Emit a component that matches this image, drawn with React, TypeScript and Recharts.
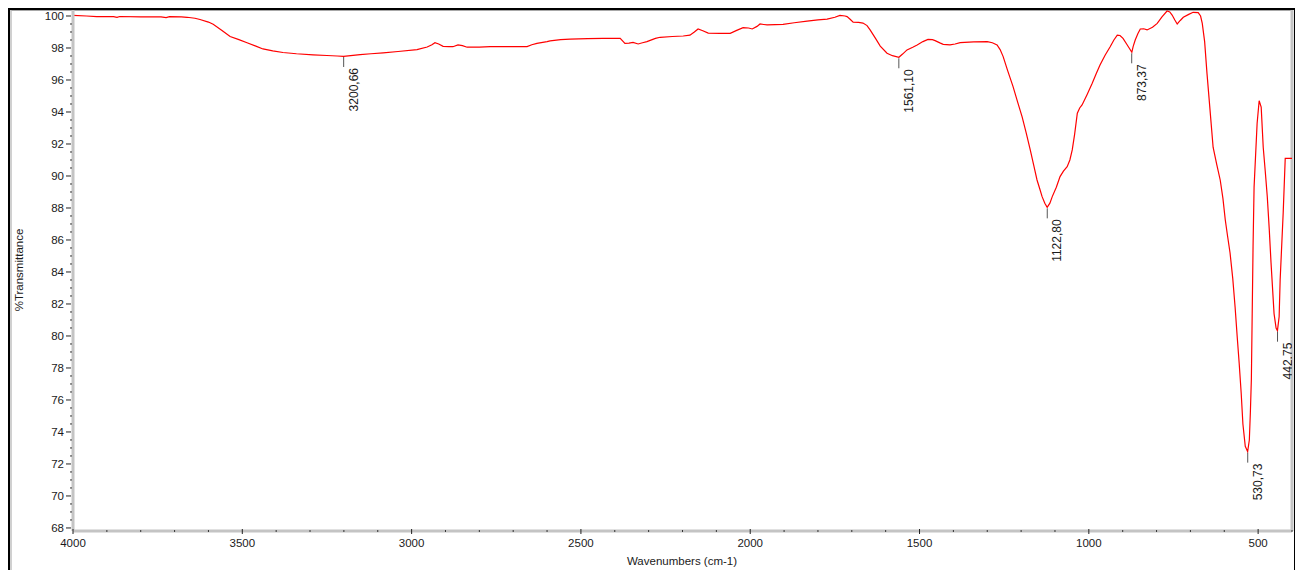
import { ComposedChart, Line, Scatter, XAxis, YAxis, ReferenceLine } from 'recharts';

const LINE_COLOR = '#ff0000';
const AXIS_GRAY = '#c4c4c4';
const FONT = '"Liberation Sans", Arial, sans-serif';

// spectrum (cm-1 / %T)
const wavenumbers = [
  4000, 3960, 3930, 3880, 3870, 3862, 3800, 3740, 3725, 3715,
  3680, 3663, 3640, 3625, 3600, 3586, 3560, 3536, 3510, 3486,
  3460, 3439, 3410, 3380, 3340, 3291, 3250, 3220, 3201, 3180,
  3152, 3120, 3084, 3040, 2984, 2954, 2940, 2931, 2920, 2907,
  2890, 2878, 2863, 2850, 2836, 2800, 2768, 2700, 2659, 2645,
  2630, 2600, 2591, 2560, 2532, 2480, 2435, 2384, 2370, 2358,
  2346, 2331, 2318, 2305, 2280, 2266, 2230, 2198, 2178, 2165,
  2154, 2140, 2124, 2090, 2059, 2040, 2021, 2005, 1994, 1980,
  1971, 1960, 1950, 1903, 1870, 1832, 1800, 1773, 1750, 1735,
  1720, 1714, 1705, 1696, 1680, 1667, 1655, 1646, 1630, 1616,
  1596, 1580, 1561, 1550, 1537, 1520, 1507, 1490, 1475, 1462,
  1454, 1440, 1430, 1410, 1395, 1380, 1340, 1300, 1285, 1271,
  1262, 1253, 1240, 1224, 1210, 1197, 1185, 1173, 1163, 1153,
  1145, 1138, 1130, 1123, 1115, 1108, 1096, 1085, 1075, 1064,
  1056, 1049, 1042, 1034, 1027, 1020, 1005, 990, 978, 967,
  952, 937, 926, 916, 908, 899, 887, 873, 869, 863,
  855, 848, 838, 828, 812, 798, 784, 769, 761, 754,
  746, 739, 730, 721, 705, 692, 677, 670, 665, 658,
  651, 642, 633, 622, 612, 604, 597, 590, 583, 575,
  568, 562, 556, 550, 545, 538, 531, 526, 523, 520,
  515, 512, 503, 497, 491, 485, 479, 473, 467, 462,
  453, 447, 443, 438, 435, 426, 420, 400,
];

const transmittance = [
  100.04, 100.0, 99.96, 99.96, 99.92, 99.97, 99.95, 99.95, 99.9, 99.96,
  99.95, 99.92, 99.86, 99.78, 99.62, 99.48, 99.1, 98.72, 98.52, 98.33,
  98.12, 97.94, 97.82, 97.72, 97.64, 97.57, 97.53, 97.5, 97.48, 97.52,
  97.58, 97.64, 97.7, 97.78, 97.9, 98.06, 98.2, 98.33, 98.25, 98.1,
  98.08, 98.08, 98.19, 98.15, 98.05, 98.06, 98.08, 98.08, 98.09, 98.2,
  98.29, 98.4, 98.44, 98.52, 98.55, 98.58, 98.6, 98.6, 98.29, 98.3,
  98.35, 98.25, 98.33, 98.4, 98.6, 98.67, 98.72, 98.75, 98.8, 99.0,
  99.19, 99.08, 98.93, 98.92, 98.92, 99.1, 99.27, 99.25, 99.19, 99.35,
  99.5, 99.47, 99.44, 99.48, 99.58, 99.68, 99.76, 99.81, 99.92, 100.04,
  100.0, 99.96, 99.8, 99.62, 99.6, 99.56, 99.4, 99.13, 98.6, 98.12,
  97.67, 97.52, 97.42, 97.62, 97.88, 98.05, 98.19, 98.4, 98.54, 98.52,
  98.46, 98.32, 98.23, 98.19, 98.25, 98.33, 98.38, 98.4, 98.33, 98.19,
  97.9, 97.46, 96.6, 95.6, 94.6, 93.7, 92.7, 91.63, 90.7, 89.75,
  89.2, 88.71, 88.3, 88.04, 88.3, 88.71, 89.3, 89.96, 90.3, 90.58,
  91.0, 91.63, 92.6, 93.92, 94.25, 94.44, 95.1, 95.79, 96.4, 96.94,
  97.55, 98.08, 98.5, 98.81, 98.78, 98.6, 98.2, 97.73, 98.1, 98.5,
  98.9, 99.19, 99.2, 99.13, 99.3, 99.54, 99.95, 100.31, 100.25, 100.06,
  99.75, 99.5, 99.72, 99.92, 100.1, 100.23, 100.21, 100.0, 99.54, 98.4,
  96.4, 94.1, 91.8, 90.7, 89.75, 88.6, 87.25, 86.2, 85.2, 83.6,
  81.8, 80.0, 78.3, 76.4, 74.5, 73.1, 72.77, 73.5, 75.2, 77.3,
  85.6, 89.3, 93.3, 94.7, 94.3, 91.8, 90.3, 88.7, 86.6, 84.6,
  81.4, 80.5, 80.33, 81.2, 83.5, 87.7, 91.1, 91.1,
];

// picked peaks
const peakWavenumbers = [3200.66, 1561.1, 1122.8, 873.37, 530.73, 442.75];
const peakValues = [97.5, 97.42, 88.04, 97.73, 72.77, 80.33];
const peakLabels = ['3200,66', '1561,10', '1122,80', '873,37', '530,73', '442,75'];

const xTicks = Array.from({ length: 37 }, (_, i) => 4000 - i * 100);
const yTicks = Array.from({ length: 65 }, (_, i) => 68 + i * 0.5);

const spectrum = wavenumbers.map((wn, i) => ({ wn, t: transmittance[i] }));
const peaks = peakWavenumbers.map((wn, i) => ({ wn, t: peakValues[i], label: peakLabels[i] }));

const XTick = (props: any) => {
  const { x, y, payload } = props;
  const major = payload.value % 500 === 0;
  if (!major) return <line x1={x} y1={y - 1} x2={x} y2={y + 1} stroke="#333" strokeWidth={1} />;
  return (
    <g>
      <line x1={x} y1={y - 2} x2={x} y2={y + 3} stroke="#222" strokeWidth={1} />
      <text x={x} y={y + 16} textAnchor="middle" fontSize={11.5} fill="#1a1a1a" fontFamily={FONT}>
        {payload.value}
      </text>
    </g>
  );
};

const YTick = (props: any) => {
  const { x, y, payload } = props;
  const major = payload.value % 2 === 0;
  if (!major) return <line x1={x - 3} y1={y} x2={x - 1} y2={y} stroke="#333" strokeWidth={1} />;
  return (
    <g>
      <line x1={x - 7} y1={y} x2={x - 2} y2={y} stroke="#222" strokeWidth={1} />
      <text x={x - 9} y={y + 4} textAnchor="end" fontSize={11.5} fill="#1a1a1a" fontFamily={FONT}>
        {payload.value}
      </text>
    </g>
  );
};

const PeakMark = (props: any) => {
  const { cx, cy, payload } = props;
  if (typeof cx !== 'number' || typeof cy !== 'number') return null;
  return (
    <g>
      <line x1={cx} y1={cy + 1} x2={cx} y2={cy + 11} stroke="#555" strokeWidth={1} />
      <text
        transform={`translate(${cx + 14},${cy + 12}) rotate(-90)`}
        textAnchor="end"
        fontSize={12}
        fill="#1a1a1a"
        fontFamily={FONT}
      >
        {payload.label}
      </text>
    </g>
  );
};

const xTitle = () => (
  <text x={682} y={565} textAnchor="middle" fontSize={11.5} fill="#1a1a1a" fontFamily={FONT}>
    Wavenumbers (cm-1)
  </text>
);

const yTitle = () => (
  <text
    transform="translate(23,270) rotate(-90)"
    textAnchor="middle"
    fontSize={11.5}
    fill="#1a1a1a"
    fontFamily={FONT}
  >
    %Transmittance
  </text>
);

export default function App() {
  return (
    <div
      style={{
        position: 'relative',
        width: 1300,
        height: 570,
        overflow: 'hidden',
        background: '#fff',
        fontFamily: FONT,
      }}
    >
      <style>{'body{margin:0;overflow:hidden}'}</style>
      <div
        style={{
          position: 'absolute',
          left: 8,
          top: 8,
          width: 1287,
          height: 600,
          boxSizing: 'border-box',
          borderTop: '2px solid #000',
          borderLeft: '2px solid #000',
          borderRight: '1.5px solid #000',
        }}
      />
      <div
        style={{
          position: 'absolute',
          left: 10,
          top: 10,
          width: 1283,
          height: 600,
          boxSizing: 'border-box',
          borderTop: '1.5px solid #a8a8a8',
          borderLeft: '2px solid #d0d0d0',
        }}
      />
      <div style={{ position: 'absolute', left: 0, top: 0 }}>
        <ComposedChart width={1300} height={570} margin={{ top: 10, right: 8, bottom: 0, left: 0 }}>
          <XAxis
            dataKey="wn"
            type="number"
            domain={[400, 4000]}
            reversed
            allowDataOverflow
            ticks={xTicks}
            interval={0}
            height={39}
            tickSize={0}
            tickMargin={0}
            tickLine={false}
            tick={XTick}
            axisLine={{ stroke: AXIS_GRAY, strokeWidth: 3 }}
            label={xTitle}
          />
          <YAxis
            dataKey="t"
            type="number"
            domain={[67.81, 100.375]}
            allowDataOverflow
            ticks={yTicks}
            interval={0}
            width={73}
            tickSize={0}
            tickMargin={0}
            tickLine={false}
            tick={YTick}
            axisLine={{ stroke: AXIS_GRAY, strokeWidth: 3 }}
            label={yTitle}
          />
          <ReferenceLine x={400} stroke={AXIS_GRAY} strokeWidth={3} />
          <Line
            data={spectrum}
            dataKey="t"
            type="linear"
            stroke={LINE_COLOR}
            strokeWidth={1.2}
            dot={false}
            isAnimationActive={false}
          />
          <Scatter data={peaks} dataKey="t" shape={PeakMark} isAnimationActive={false} />
        </ComposedChart>
      </div>
    </div>
  );
}
